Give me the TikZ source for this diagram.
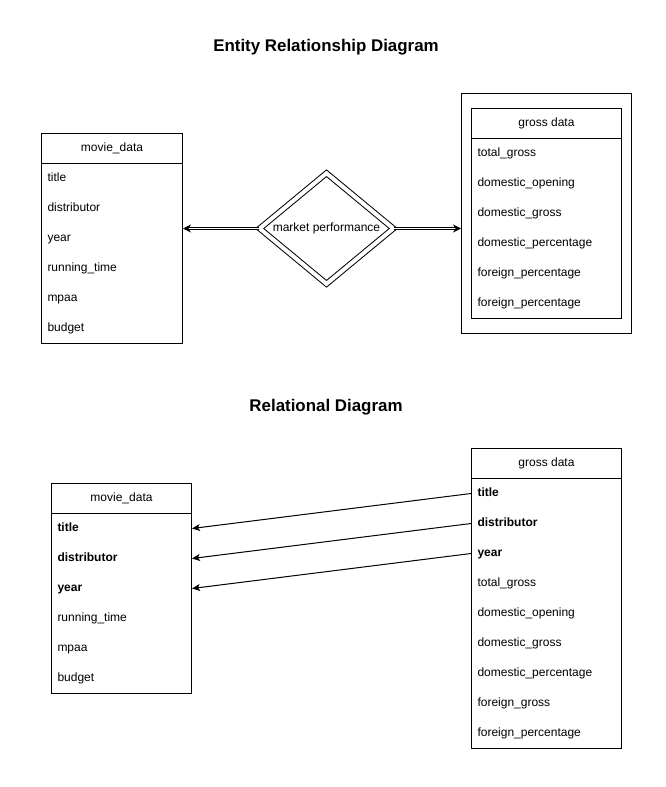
\documentclass[tikz,border=0pt]{standalone}
\usepackage{fontspec}
\setmainfont{Liberation Sans}
\usetikzlibrary{shapes.geometric,arrows.meta}

\tikzset{
  every node/.style={font=\fontsize{12}{14}\selectfont},
  heading/.style={font=\fontsize{16.9}{20}\selectfont\bfseries},
  tblbox/.style={draw, inner sep=0pt, anchor=north west},
  tblhead/.style={draw, inner sep=0pt, minimum height=30pt, anchor=north west},
  tblrow/.style={inner xsep=6pt, inner ysep=0pt, minimum height=30pt, text height=9pt, text depth=3pt, align=left, anchor=north west},
  keyrow/.style={tblrow, font=\fontsize{12}{14}\selectfont\bfseries},
  relation/.style={draw, double, double distance=4pt, shape=diamond, aspect=1.2, inner sep=0pt},
  link/.style={double, double distance=1.5pt, -{Stealth[length=8pt,width=8pt]}},
  fk/.style={-{Stealth[length=8pt,width=7pt,inset=2pt]}}
}

\begin{document}
\begin{tikzpicture}[x=1pt,y=-1pt,line width=1pt]
    \useasboundingbox (0,0) rectangle (666,787);

    \node[heading] (ertitle) at (326,47) {Entity Relationship Diagram};

    \node[tblbox, minimum width=141pt, minimum height=210pt] (ermd) at (41,133) {};
    \node[tblhead, minimum width=141pt] (ermd-head) at (41,133) {movie\_data};
    \foreach \f [count=\i from 0] in {title,distributor,year,running\_time,mpaa,budget}
        \node[tblrow, text width=129pt] (ermd-\i) at (41,163+30*\i) {\f};

    \node[relation, minimum width=134pt, minimum height=111pt] (perf) at (326.5,228.5) {market performance};

    \node[tblbox, minimum width=170pt, minimum height=240pt] (ergd-outer) at (461,93) {};
    \node[tblbox, minimum width=150pt, minimum height=210pt] (ergd) at (471,108) {};
    \node[tblhead, minimum width=150pt] (ergd-head) at (471,108) {gross data};
    \foreach \f [count=\i from 0] in {total\_gross,domestic\_opening,domestic\_gross,domestic\_percentage,foreign\_percentage,foreign\_percentage}
        \node[tblrow, text width=138pt] (ergd-\i) at (471,138+30*\i) {\f};

    \draw[link] (perf.west) -- (perf.west -| ermd.east);
    \draw[link] (perf.east) -- (perf.east -| ergd-outer.west);

    \node[heading] (reltitle) at (326,407) {Relational Diagram};

    \node[tblbox, minimum width=140pt, minimum height=210pt] (relmd) at (51,483) {};
    \node[tblhead, minimum width=140pt] (relmd-head) at (51,483) {movie\_data};
    \foreach \f [count=\i from 0] in {title,distributor,year}
        \node[keyrow, text width=128pt] (relmd-\i) at (51,513+30*\i) {\f};
    \foreach \f [count=\i from 3] in {running\_time,mpaa,budget}
        \node[tblrow, text width=128pt] (relmd-\i) at (51,513+30*\i) {\f};

    \node[tblbox, minimum width=150pt, minimum height=300pt] (relgd) at (471,448) {};
    \node[tblhead, minimum width=150pt] (relgd-head) at (471,448) {gross data};
    \foreach \f [count=\i from 0] in {title,distributor,year}
        \node[keyrow, text width=138pt] (relgd-\i) at (471,478+30*\i) {\f};
    \foreach \f [count=\i from 3] in {total\_gross,domestic\_opening,domestic\_gross,domestic\_percentage,foreign\_gross,foreign\_percentage}
        \node[tblrow, text width=138pt] (relgd-\i) at (471,478+30*\i) {\f};

    \foreach \i in {0,1,2}
        \draw[fk] (relgd-\i.west) -- (relmd-\i.east);
\end{tikzpicture}
\end{document}
